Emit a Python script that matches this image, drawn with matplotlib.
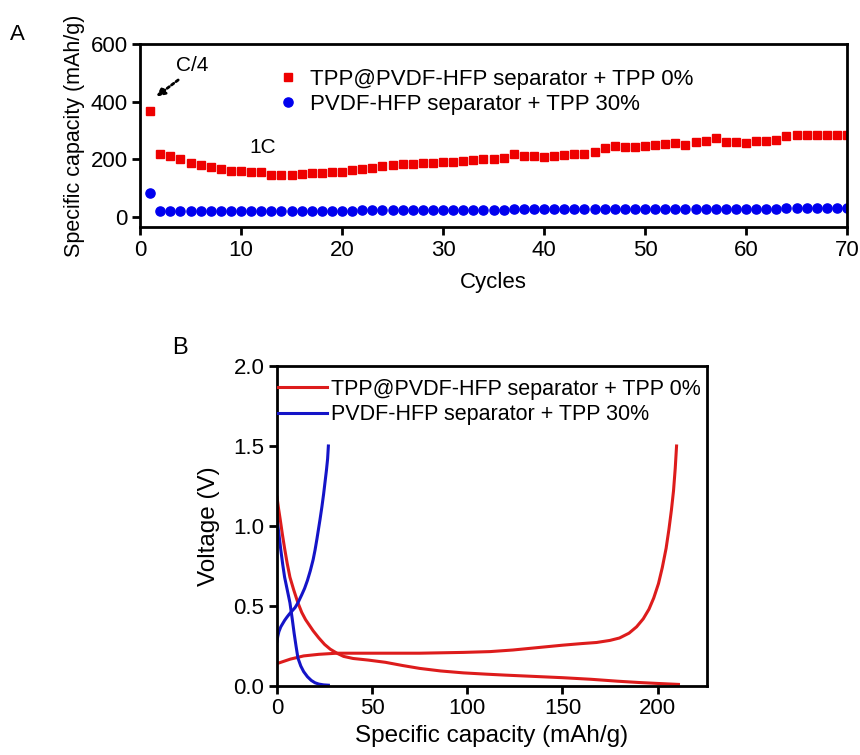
import numpy as np
import matplotlib
matplotlib.use("Agg")
import matplotlib.pyplot as plt

plt.rcParams['font.family'] = ['Liberation Sans', 'DejaVu Sans']

# ---------------- panel A : cycling ----------------
cycles = np.arange(1, 71)
cap_tpp0 = [366, 220, 210, 200, 188, 180, 172, 165, 160, 158,
            157, 157, 147, 147, 145, 150, 152, 153, 155, 155,
            162, 165, 170, 175, 180, 182, 185, 187, 188, 190,
            190, 193, 197, 200, 200, 205, 218, 210, 210, 208,
            212, 215, 218, 220, 225, 238, 245, 242, 242, 245,
            248, 252, 255, 250, 260, 265, 275, 260, 260, 258,
            262, 262, 268, 280, 285, 285, 283, 283, 285, 285]
cap_tpp30 = [83, 22, 22, 21, 21, 21, 21, 21, 21, 21,
             21, 21, 21, 21, 21, 22, 22, 22, 22, 22,
             22, 23, 23, 23, 23, 23, 24, 24, 24, 24,
             25, 25, 25, 25, 25, 25, 26, 26, 26, 26,
             26, 26, 26, 27, 27, 27, 27, 27, 27, 27,
             27, 28, 28, 28, 28, 28, 28, 28, 29, 29,
             29, 29, 29, 30, 30, 30, 30, 31, 31, 31]

label_red = "TPP@PVDF-HFP separator + TPP 0%"
label_blue = "PVDF-HFP separator + TPP 30%"

# ---------------- panel B : voltage profiles ----------------
red_dis_x = [0, 0.8, 1.7, 2.8, 4, 5.3, 6.8, 8.8, 11, 13, 15, 17, 19, 22, 25, 28, 31.5,
             35, 40, 48, 57, 66, 75, 86, 98, 110, 120, 135, 150, 165, 179, 190, 200, 211]
red_dis_v = [1.18, 1.11, 1.04, 0.95, 0.86, 0.77, 0.68, 0.6, 0.52, 0.46, 0.415, 0.38, 0.345,
             0.3, 0.26, 0.23, 0.205, 0.185, 0.172, 0.162, 0.148, 0.128, 0.11, 0.094, 0.082,
             0.074, 0.068, 0.06, 0.052, 0.042, 0.03, 0.022, 0.016, 0.01]
red_chg_x = [0, 3, 7, 14, 22, 31.5, 50, 75, 98, 112, 124, 137, 150, 160, 168, 175, 180,
             185, 189, 192.5, 195.5, 198, 200.5, 202.5, 204.5, 206, 207.3, 208.4, 209.3, 210]
red_chg_v = [0.14, 0.152, 0.168, 0.188, 0.198, 0.205, 0.205, 0.205, 0.21, 0.215, 0.225,
             0.24, 0.255, 0.265, 0.272, 0.285, 0.3, 0.33, 0.37, 0.42, 0.48, 0.55, 0.64,
             0.74, 0.86, 0.98, 1.1, 1.22, 1.36, 1.5]
blue_dis_x = [0, 1, 2, 3, 4, 5.4, 6.8, 8, 9, 10, 11, 12.5, 14, 16, 18, 20, 22, 24.5, 27]
blue_dis_v = [1.05, 0.95, 0.85, 0.76, 0.68, 0.6, 0.52, 0.42, 0.33, 0.25, 0.175, 0.125,
              0.09, 0.058, 0.035, 0.02, 0.012, 0.007, 0.005]
blue_chg_x = [0, 0.4, 1, 2, 3, 4, 5.2, 6.5, 8, 9.5, 11, 13, 14.5, 16, 17.5, 19, 20, 21,
              22.6, 23.6, 24.5, 25.3, 26, 26.6, 27]
blue_chg_v = [0.28, 0.31, 0.34, 0.37, 0.39, 0.41, 0.43, 0.45, 0.47, 0.49, 0.52, 0.57,
              0.61, 0.66, 0.72, 0.79, 0.85, 0.92, 1.04, 1.12, 1.2, 1.28, 1.35, 1.42, 1.5]

RED = '#ee0000'
BLUE = '#0000ee'
LRED = '#dd1c1c'
LBLUE = '#1414c8'

fig = plt.figure(figsize=(8.6, 7.55), dpi=100)

# ----- A -----
axA = fig.add_axes([140/860, 1-227/755, 707/860, 183/755])
axA.plot(cycles, cap_tpp0, 's', color=RED, ms=6.2, mec=RED, label=label_red)
axA.plot(cycles, cap_tpp30, 'o', color=BLUE, ms=6.6, mec=BLUE, label=label_blue)
axA.set_xlim(0, 70)
axA.set_ylim(-35, 600)
axA.set_xticks(np.arange(0, 71, 10))
axA.set_yticks([0, 200, 400, 600])
axA.set_xlabel("Cycles", fontsize=16, labelpad=8)
axA.set_ylabel("Specific capacity (mAh/g)", fontsize=15.5, labelpad=4)
axA.annotate('', xy=(1.4, 412), xytext=(4.0, 481),
             arrowprops=dict(arrowstyle='-|>', linestyle=(0, (1, 1)), lw=2, color='black',
                             mutation_scale=12))
axA.text(5.2, 526, "C/4", fontsize=15, ha='center', va='center')
axA.text(12.1, 242, "1C", fontsize=15, ha='center', va='center')
axA.legend(loc='upper left', bbox_to_anchor=(0.194, 0.865), frameon=False,
           fontsize=16, handlelength=1, handletextpad=0.5, borderpad=0,
           borderaxespad=0, labelspacing=0.2)
fig.text(17/860, 1-35/755, "A", fontsize=16, ha='center', va='center')

# ----- B -----
axB = fig.add_axes([277/860, 1-686/755, 430/860, 320/755])
axB.plot(red_dis_x, red_dis_v, color=LRED, lw=2.2, label=label_red)
axB.plot(red_chg_x, red_chg_v, color=LRED, lw=2.2)
axB.plot(blue_dis_x, blue_dis_v, color=LBLUE, lw=2.2, label=label_blue)
axB.plot(blue_chg_x, blue_chg_v, color=LBLUE, lw=2.2)
axB.set_xlim(0, 226)
axB.set_ylim(0, 2.0)
axB.set_xticks([0, 50, 100, 150, 200])
axB.set_yticks([0, 0.5, 1.0, 1.5, 2.0])
axB.set_yticklabels(["0.0", "0.5", "1.0", "1.5", "2.0"])
axB.set_xlabel("Specific capacity (mAh/g)", fontsize=17.5, labelpad=4)
axB.set_ylabel("Voltage (V)", fontsize=17.5, labelpad=10)
axB.legend(loc='upper left', bbox_to_anchor=(0.002, 0.96), frameon=False,
           fontsize=15.5, handlelength=2.3, handletextpad=0.15, borderpad=0,
           borderaxespad=0, labelspacing=0.2)
fig.text(180/860, 1-348/755, "B", fontsize=17, ha='center', va='center')

for ax, fs in ((axA, 16), (axB, 16)):
    for s in ax.spines.values():
        s.set_linewidth(2)
    ax.tick_params(direction='out', length=6, width=2, labelsize=fs, pad=3)

fig.savefig("out.png", dpi=100)
